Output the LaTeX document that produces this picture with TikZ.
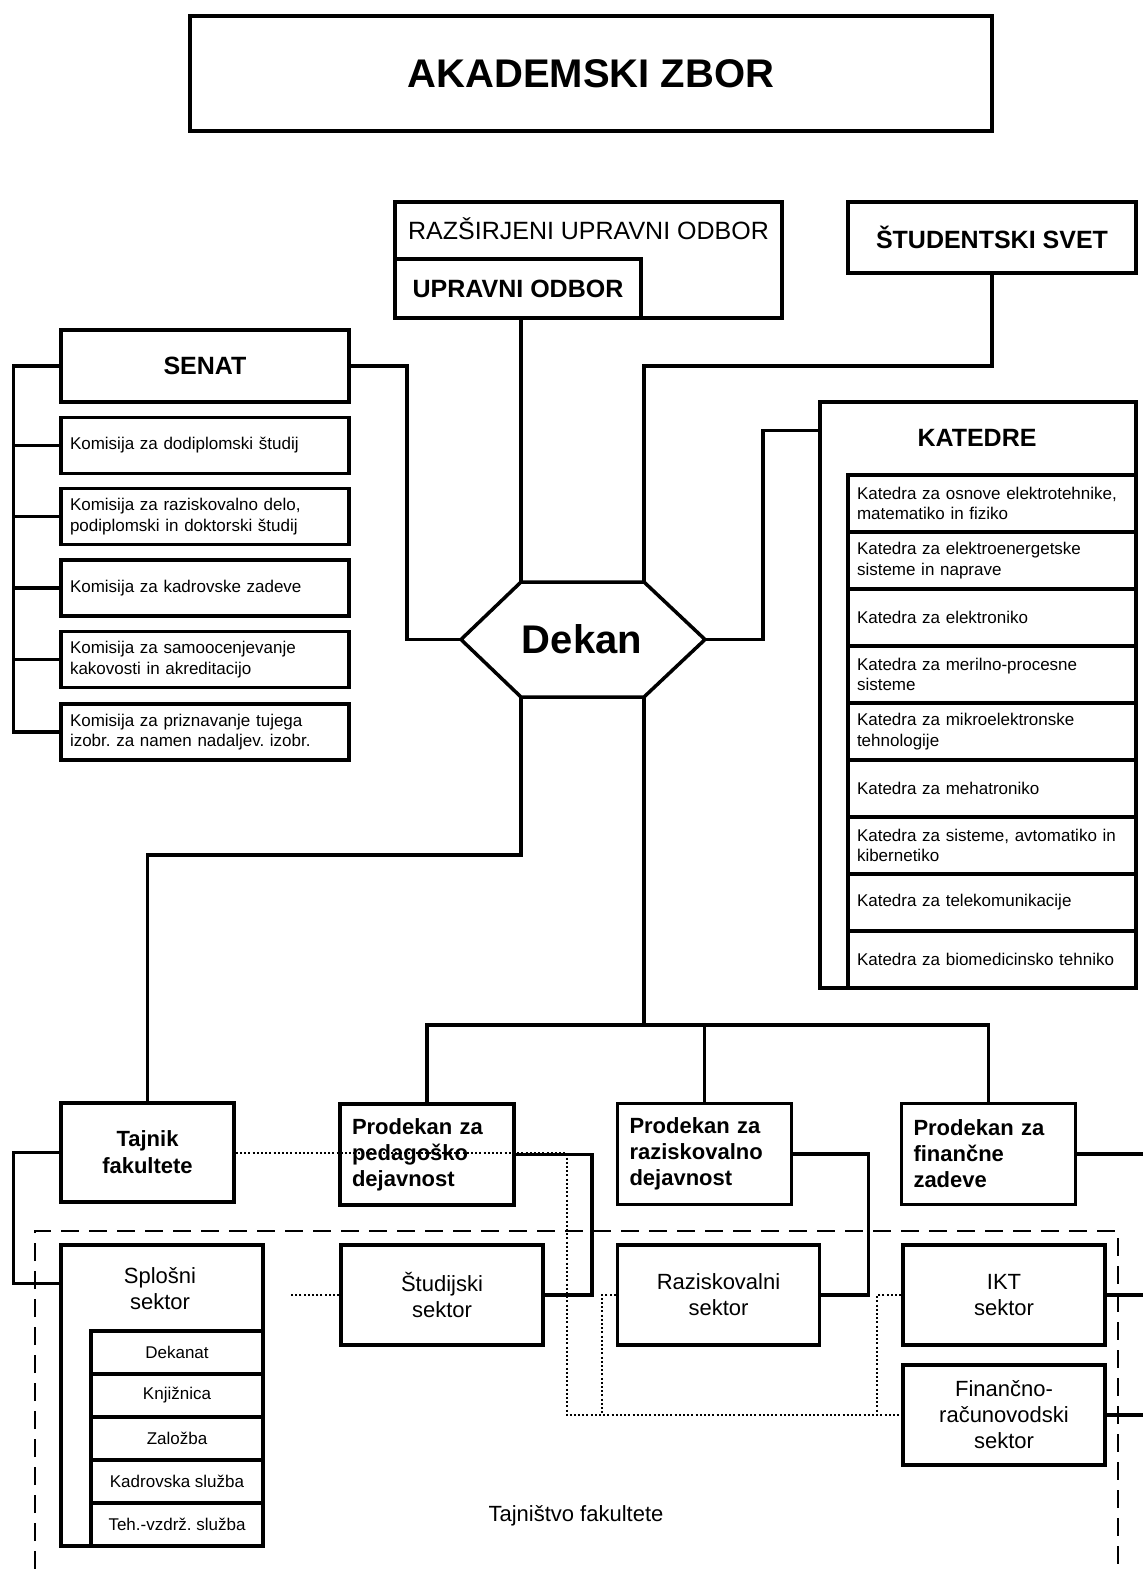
\documentclass[tikz,border=0pt]{standalone}
\usepackage{fontspec}
\setmainfont{Liberation Sans}
\frenchspacing
\begin{document}
\begin{tikzpicture}[x=1pt,y=-1pt,
    crta/.style={line width=3.5pt},
    okvir/.style={draw,rectangle,line width=3.5pt,inner sep=0pt},
    pika/.style={line width=2pt,dash pattern=on 2pt off 2.2pt},
    crtkano/.style={line width=2pt,dash pattern=on 18pt off 10pt},
    velik/.style={font=\fontsize{25}{30}\selectfont\bfseries},
    mali/.style={font=\fontsize{17}{20.5}\selectfont},
    srednji/.style={font=\fontsize{22}{26}\selectfont},
    komisija/.style={okvir,mali,text width=270pt,inner xsep=9pt,align=left,minimum height=56pt},
    katedra/.style={okvir,mali,text width=270pt,inner xsep=9pt,align=left,minimum height=57pt},
    sluzba/.style={okvir,mali,minimum width=172pt,minimum height=43pt},
    prodekan/.style={okvir,font=\fontsize{22}{26}\selectfont\bfseries,text width=150pt,inner xsep=12pt,align=left,minimum height=101pt},
    sektor/.style={okvir,srednji,align=center,minimum width=202pt,minimum height=100pt}]
                \useasboundingbox (0,0) rectangle (1143,1569);

                \node (zbor) [okvir,minimum width=802pt,minimum height=115pt,font=\fontsize{40}{48}\selectfont\bfseries] at (591,73.5) {AKADEMSKI ZBOR};

                \node (rzsodbor) [okvir,minimum width=387pt,minimum height=116pt] at (588.5,260) {};
                \node (rzsnapis) [font=\fontsize{25}{30}\selectfont] at (588.5,229) {RAZŠIRJENI UPRAVNI ODBOR};
                \node (uodbor) [okvir,velik,minimum width=246pt,minimum height=59pt] at (518,288.5) {UPRAVNI ODBOR};
                \node (studsvet) [okvir,velik,minimum width=288pt,minimum height=71pt] at (992,237.5) {ŠTUDENTSKI SVET};

                \node (senat) [okvir,velik,minimum width=288pt,minimum height=72pt] at (205,366) {SENAT};
                \node (kom1) [komisija] at (205,445.5) {Komisija za dodiplomski študij};
                \node (kom2) [komisija] at (205,516.5) {Komisija za raziskovalno delo,\\podiplomski in doktorski študij};
                \node (kom3) [komisija] at (205,588) {Komisija za kadrovske zadeve};
                \node (kom4) [komisija] at (205,659.5) {Komisija za samoocenjevanje\\kakovosti in akreditacijo};
                \node (kom5) [komisija] at (205,732) {Komisija za priznavanje tujega\\izobr. za namen nadaljev. izobr.};

                \node (katedre) [okvir,minimum width=316pt,minimum height=586pt] at (978,695) {};
                \node (katnapis) [velik] at (977,438) {KATEDRE};
                \node (kat1) [katedra] at (992,503.5) {Katedra za osnove elektrotehnike,\\matematiko in fiziko};
                \node (kat2) [katedra] at (992,560.5) {Katedra za elektroenergetske\\sisteme in naprave};
                \node (kat3) [katedra] at (992,617.5) {Katedra za elektroniko};
                \node (kat4) [katedra] at (992,674.5) {Katedra za merilno-procesne\\sisteme};
                \node (kat5) [katedra] at (992,731.5) {Katedra za mikroelektronske\\tehnologije};
                \node (kat6) [katedra] at (992,788.5) {Katedra za mehatroniko};
                \node (kat7) [katedra] at (992,845.5) {Katedra za sisteme, avtomatiko in\\kibernetiko};
                \node (kat8) [katedra] at (992,902.5) {Katedra za telekomunikacije};
                \node (kat9) [katedra] at (992,959.5) {Katedra za biomedicinsko tehniko};

                % dekan
                \coordinate (dekanL) at (461,639.5);
                \coordinate (dekanTL) at (521,582);
                \coordinate (dekanTR) at (644,582);
                \coordinate (dekanR) at (705,639.5);
                \coordinate (dekanBR) at (644,697);
                \coordinate (dekanBL) at (521,697);
                \draw[crta] (dekanL) -- (dekanTL) -- (dekanTR) -- (dekanR) -- (dekanBR) -- (dekanBL) -- cycle;
                \node (dekan) [font=\fontsize{40}{48}\selectfont\bfseries] at (582,639.5) {Dekan};

                \node (tajnik) [okvir,font=\fontsize{22}{27}\selectfont\bfseries,align=center,minimum width=173pt,minimum height=99pt] at (147.5,1152.5) {Tajnik\\fakultete};
                \node (prodped) [prodekan] at (427,1154.5) {Prodekan za\\pedagoško\\dejavnost};
                \node (prodraz) [prodekan] at (704.5,1154) {Prodekan za\\raziskovalno\\dejavnost};
                \node (prodfin) [prodekan] at (988.5,1154) {Prodekan za\\finančne\\zadeve};

                % tajnistvo
                \draw[crtkano] (35,1569) -- (35,1231) -- (1118,1231) -- (1118,1569);
                \node (splosni) [okvir,minimum width=202pt,minimum height=301pt] at (162,1395.5) {};
                \node (splnapis) [srednji,align=center] at (160,1289) {Splošni\\sektor};
                \node (sl1) [sluzba] at (177,1352.5) {Dekanat};
                \node (sl2) [sluzba] at (177,1395.5) {Knjižnica};
                \node (sl3) [sluzba] at (177,1438.5) {Založba};
                \node (sl4) [sluzba] at (177,1481.5) {Kadrovska služba};
                \node (sl5) [sluzba] at (177,1524.5) {Teh.-vzdrž. služba};
                \node (studijski) [sektor] at (442,1295) {Študijski\\sektor};
                \node (razsektor) [sektor] at (718.5,1295) {Raziskovalni\\sektor};
                \node (ikt) [sektor] at (1004,1295) {IKT\\sektor};
                \node (financno) [sektor] at (1004,1415) {Finančno-\\računovodski\\sektor};
                \node (tajnistvo) [srednji] at (576,1516) {Tajništvo fakultete};

                % povezave
                \draw[crta] (dekanTL) -- (dekanTL |- uodbor.south);
                \draw[crta] (dekanTR) -- ++(0,-216) -| (studsvet.south);
                \draw[crta] (senat.east) -- ++(56,0) |- (dekanL);
                \draw[crta] (dekanR) -- ++(58,0) |- ([yshift=-30pt]katedre.north west);
                \draw[crta] (senat.west) -- ++(-46,0) |- (kom5.west);
                \draw[crta] (kom1.west) -- ++(-46,0);
                \draw[crta] (kom2.west) -- ++(-46,0);
                \draw[crta] (kom3.west) -- ++(-46,0);
                \draw[crta] (kom4.west) -- ++(-46,0);

                \draw[crta] (dekanBL) -- ++(0,158) -| (tajnik.north);
                \draw[crta] (dekanBR) -- ++(0,328) coordinate (razcep);
                \draw[crta] (prodped.north) |- (razcep) -| (prodfin.north);
                \draw[crta] (prodraz.north) -- (prodraz.north |- razcep);

                \draw[crta] (tajnik.west) -- ++(-46,0) |- ([yshift=-40pt]splosni.north west);
                \draw[crta] (prodped.east) -- ++(76,0) |- (studijski.east);
                \draw[crta] (prodraz.east) -- ++(75,0) |- (razsektor.east);
                \coordinate (izhod1) at (1143,1154);
                \draw[crta] (prodfin.east) -- (izhod1);
                \draw[crta] (ikt.east) -- ++(40,0);
                \draw[crta] (financno.east) -- ++(40,0);

                \draw[pika] (tajnik.east) -- ++(331,0) |- (financno.west);
                \draw[pika] (razsektor.west) -- ++(-14,0) -- ++(0,120);
                \draw[pika] (ikt.west) -- ++(-24,0) -- ++(0,120);
                \draw[pika] (studijski.west) -- ++(-50,0);
            \end{tikzpicture}
\end{document}
